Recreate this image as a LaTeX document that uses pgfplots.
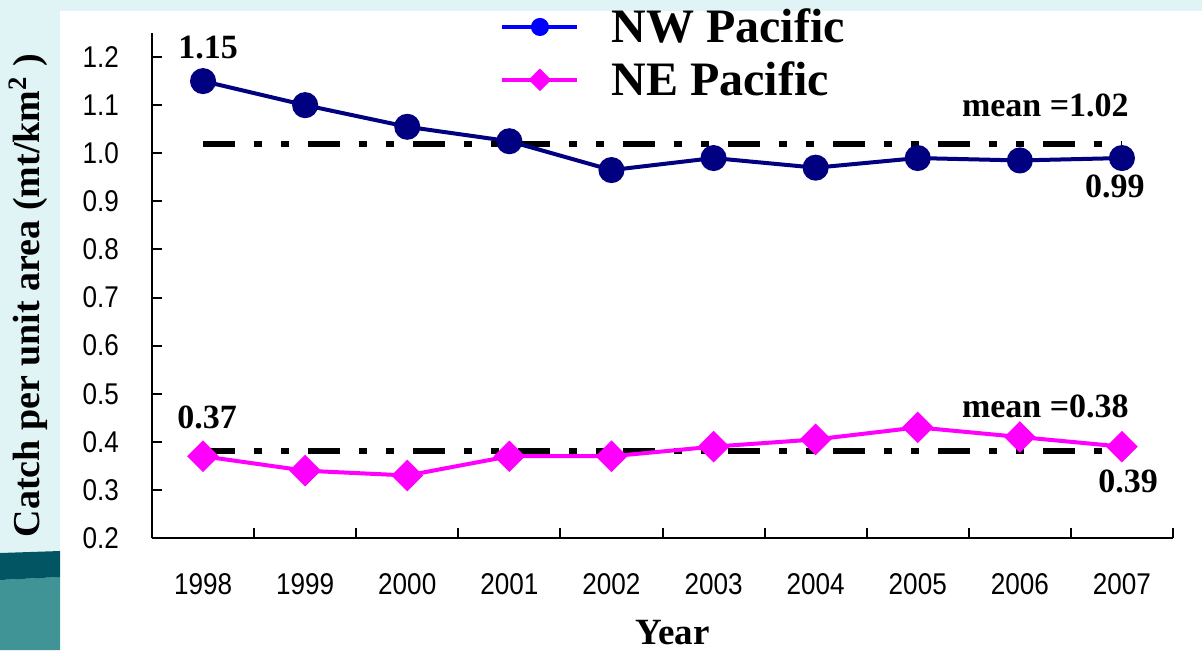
\documentclass[border=0pt]{standalone}
\usepackage{fontspec}
\usepackage{pgfplots}
\pgfplotsset{compat=1.18}
\setmainfont{Liberation Serif}
\newfontfamily\tickfont[FakeStretch=0.87]{Liberation Sans}

\definecolor{bgcyan}{RGB}{225,244,245}
\definecolor{tealdark}{RGB}{2,86,100}
\definecolor{teallight}{RGB}{64,148,150}
\definecolor{nwline}{RGB}{0,0,128}
\definecolor{neline}{RGB}{255,0,255}
\definecolor{nwlegend}{RGB}{0,0,255}

\begin{document}
\begin{tikzpicture}
% slide background
\fill[bgcyan] (0,0) rectangle (601pt,325pt);
\fill[white] (30pt,0) rectangle (601pt,319.5pt);
\fill[teallight] (0,0) -- (30pt,0) -- (30pt,36.5pt) -- (0,35pt) -- cycle;
\fill[tealdark] (0,35pt) -- (30pt,36.5pt) -- (30pt,49.5pt) -- (0,48.5pt) -- cycle;
\useasboundingbox (0,0) rectangle (601pt,325pt);

\begin{axis}[
  at={(76pt,56pt)}, anchor=south west,
  scale only axis, width=510.5pt, height=252.5pt,
  xmin=-0.5, xmax=9.5, ymin=0.2, ymax=1.25,
  clip=false,
  axis x line*=bottom, axis y line*=left,
  x axis line style={-, line width=1pt},
  y axis line style={-, line width=1pt},
  tick align=inside,
  major tick length=5pt,
  tick style={black, line width=1pt},
  xtick={-0.5,0.5,1.5,2.5,3.5,4.5,5.5,6.5,7.5,8.5,9.5},
  x tick label as interval,
  xticklabels={1998,1999,2000,2001,2002,2003,2004,2005,2006,2007},
  ytick={0.2,0.3,0.4,0.5,0.6,0.7,0.8,0.9,1.0,1.1,1.2},
  yticklabels={0.2,0.3,0.4,0.5,0.6,0.7,0.8,0.9,1.0,1.1,1.2},
  /pgf/number format/assume math mode=true,
  tick label style={font=\tickfont\fontsize{15}{17}\selectfont},
  xticklabel style={yshift=-14pt},
  yticklabel style={xshift=-13pt},
  xlabel={Year},
  ylabel={Catch per unit area (mt/km\textsuperscript{2} )},
  every axis x label/.style={at={(axis description cs:0.51,0)}, anchor=center,
    yshift=-47.5pt, font=\bfseries\fontsize{18.5}{22}\selectfont},
  every axis y label/.style={at={(axis description cs:0,0.48)}, anchor=center,
    xshift=-62pt, rotate=90, font=\bfseries\fontsize{19}{22}\selectfont},
  legend style={at={(axis description cs:0.335,1.065)}, anchor=north west,
    draw=none, fill=none, font=\bfseries\fontsize{24}{28}\selectfont,
    nodes={inner sep=2pt}, row sep=4pt,
    /tikz/every odd column/.append style={column sep=14pt}},
  legend cell align=left,
  legend image code/.code={%
    \draw[mark repeat=2, mark phase=2, #1]
      plot coordinates {(0pt,0pt) (18.75pt,0pt) (37.5pt,0pt)};},
]

% mean levels
\addplot[black, line width=3pt, mark=none, forget plot,
  dash pattern=on 16pt off 9.5pt on 4pt off 9.5pt on 4pt off 9.5pt]
  coordinates {(0,1.02) (9,1.02)};
\addplot[black, line width=3pt, mark=none, forget plot,
  dash pattern=on 16pt off 9.5pt on 4pt off 9.5pt on 4pt off 9.5pt]
  coordinates {(0,0.38) (9,0.38)};

% NW Pacific
\addplot[nwline, line width=2pt, mark=*, mark size=5.5pt,
  mark options={solid, fill=nwline}, forget plot]
  coordinates {(0,1.15) (1,1.10) (2,1.055) (3,1.025) (4,0.965)
               (5,0.99) (6,0.97) (7,0.99) (8,0.985) (9,0.99)};
% NE Pacific
\addplot[neline, line width=2pt, mark=square*, mark size=4.6pt,
  mark options={solid, fill=neline, rotate=45}, forget plot]
  coordinates {(0,0.37) (1,0.34) (2,0.33) (3,0.37) (4,0.37)
               (5,0.39) (6,0.405) (7,0.43) (8,0.41) (9,0.39)};

\addlegendimage{nwlegend, line width=2pt, mark=*, mark size=3.5pt,
  mark options={fill=nwlegend}}
\addlegendentry{NW Pacific}
\addlegendimage{neline, line width=2pt, mark=square*, mark size=3pt,
  mark options={fill=neline, rotate=45}}
\addlegendentry{NE Pacific}

% value labels
\begin{scope}[font=\bfseries\fontsize{17}{20}\selectfont]
\node at (axis cs:0.05,1.219) {1.15};
\node at (axis cs:0.04,0.4505) {0.37};
\node at (axis cs:8.25,1.10) {mean =1.02};
\node at (axis cs:8.93,0.931) {0.99};
\node at (axis cs:8.25,0.4735) {mean =0.38};
\node at (axis cs:9.06,0.317) {0.39};
\end{scope}
\end{axis}
\end{tikzpicture}
\end{document}
